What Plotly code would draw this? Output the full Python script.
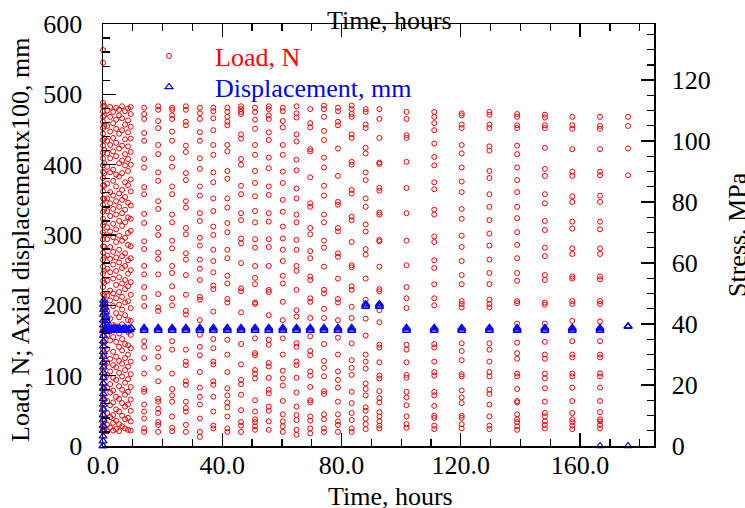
import plotly.graph_objects as go

# ---------------- data ----------------
# times (hours) of the sampled load "columns"
col_times = [13.8, 18.5, 23.2, 27.8, 32.5, 37.0, 41.7, 46.3, 51.0, 55.6, 60.3, 64.9, 69.5,
             74.1, 78.8, 83.4, 88.1, 92.7, 101.8, 111.1, 120.3, 129.6, 138.9, 148.2,
             157.4, 166.7, 176.1]

load_01 = [481, 472, 465, 445, 434, 408, 396, 368, 358, 330, 317, 291, 280, 256, 244, 226, 211, 199, 149, 141, 125, 103, 81, 77, 59, 49, 39, 25, 20]
load_02 = [483, 478, 462, 452, 428, 415, 389, 377, 348, 337, 310, 300, 275, 266, 244, 216, 197, 192, 139, 127, 111, 92, 67, 63, 53, 47, 34, 30, 20]
load_03 = [481, 478, 470, 465, 447, 434, 409, 397, 369, 358, 329, 318, 292, 281, 256, 246, 227, 210, 200, 149, 137, 103, 81, 72, 63, 42, 26, 21]
load_04 = [483, 478, 461, 456, 427, 418, 388, 378, 348, 339, 310, 301, 274, 265, 243, 215, 192, 187, 137, 120, 115, 92, 87, 63, 54, 49, 30, 20]
load_05 = [481, 473, 465, 446, 434, 409, 394, 369, 356, 331, 320, 296, 285, 265, 252, 236, 212, 208, 179, 158, 141, 129, 105, 83, 70, 59, 39, 20, 13]
load_06 = [481, 476, 466, 449, 428, 414, 389, 375, 352, 334, 312, 300, 279, 263, 247, 228, 223, 191, 152, 139, 120, 116, 92, 87, 70, 49, 29, 25]
load_07 = [481, 475, 468, 461, 456, 428, 419, 391, 380, 352, 339, 317, 304, 279, 267, 242, 231, 209, 204, 151, 130, 105, 82, 72, 62, 55, 42, 25, 20]
load_08 = [483, 479, 475, 472, 443, 437, 408, 400, 370, 358, 331, 321, 295, 288, 260, 224, 220, 190, 145, 116, 94, 88, 73, 51, 34, 29, 20]
load_09 = [481, 475, 464, 451, 428, 414, 391, 374, 355, 334, 318, 294, 282, 256, 239, 230, 204, 202, 153, 132, 129, 108, 103, 96, 65, 49, 38, 34, 28, 23]
load_10 = [483, 479, 470, 465, 446, 435, 410, 395, 369, 357, 331, 319, 294, 283, 256, 222, 219, 186, 151, 144, 118, 113, 97, 80, 75, 56, 50, 35, 23]
load_11 = [481, 476, 462, 453, 428, 414, 390, 374, 350, 333, 312, 295, 279, 263, 242, 231, 205, 179, 153, 130, 107, 96, 86, 64, 45, 35, 28, 20]
load_12 = [483, 473, 467, 443, 433, 407, 392, 366, 352, 329, 318, 293, 279, 256, 249, 222, 193, 184, 146, 141, 120, 115, 97, 76, 56, 44, 37, 23, 16]
load_13 = [479, 459, 453, 422, 419, 382, 345, 340, 310, 301, 277, 267, 241, 236, 210, 205, 182, 156, 135, 129, 106, 100, 84, 65, 62, 42, 36, 25, 18]
load_14 = [484, 479, 468, 448, 435, 410, 396, 370, 356, 329, 318, 292, 282, 255, 222, 217, 195, 182, 145, 121, 111, 99, 78, 74, 45, 38, 25, 20]
load_15 = [481, 476, 461, 456, 423, 384, 347, 343, 310, 305, 274, 269, 238, 209, 204, 179, 154, 130, 106, 94, 83, 63, 45, 35, 30, 20]
load_16 = [484, 479, 472, 468, 443, 438, 404, 400, 364, 359, 326, 321, 290, 257, 254, 227, 222, 198, 182, 146, 122, 111, 101, 77, 61, 47, 37, 25, 20]
load_17 = [479, 475, 457, 452, 424, 416, 389, 378, 352, 340, 315, 305, 280, 272, 238, 208, 181, 157, 130, 120, 110, 89, 81, 72, 55, 50, 39, 31, 24]
load_18 = [479, 465, 438, 403, 401, 367, 363, 332, 329, 293, 291, 255, 223, 220, 193, 176, 144, 140, 119, 100, 96, 78, 68, 62, 48, 42, 35, 29, 25]
load_19 = [475, 465, 442, 438, 404, 367, 331, 292, 257, 226, 210, 196, 144, 137, 119, 101, 97, 77, 69, 58, 42, 31, 26]
load_20 = [475, 468, 459, 449, 430, 411, 399, 375, 365, 336, 329, 298, 290, 264, 253, 230, 210, 200, 145, 140, 120, 105, 100, 77, 72, 57, 43, 40, 29, 24]
load_21 = [473, 470, 457, 452, 428, 416, 396, 376, 361, 337, 323, 299, 283, 263, 243, 230, 206, 202, 197, 146, 135, 122, 102, 99, 79, 69, 61, 43, 40, 31, 25]
load_22 = [475, 471, 457, 452, 426, 420, 391, 381, 358, 340, 321, 302, 285, 265, 246, 230, 208, 202, 197, 146, 137, 120, 105, 99, 80, 74, 59, 42, 29, 24]
load_23 = [472, 468, 456, 452, 427, 415, 396, 378, 361, 340, 324, 304, 286, 267, 246, 235, 206, 203, 174, 166, 147, 132, 124, 103, 99, 81, 64, 62, 45, 38, 34, 28, 23]
load_24 = [471, 467, 456, 452, 424, 394, 384, 358, 345, 320, 307, 282, 270, 243, 236, 204, 201, 174, 164, 148, 130, 124, 103, 96, 82, 63, 47, 42, 35, 30, 25]
load_25 = [468, 456, 451, 422, 390, 384, 355, 347, 319, 309, 281, 273, 241, 238, 206, 202, 178, 167, 149, 130, 126, 103, 99, 83, 64, 47, 38, 34, 29, 24]
load_26 = [468, 455, 451, 422, 390, 385, 356, 347, 319, 308, 281, 273, 241, 237, 206, 202, 177, 167, 149, 130, 126, 103, 99, 83, 64, 48, 38, 35, 30, 25]
load_27 = [468, 455, 423, 385]

# dense, continuously sampled part of the test (first ~9.5 h)
dense_times = [0.0, 0.4, 1.4, 2.4, 3.4, 4.4, 5.4, 6.4, 7.4, 8.4, 9.3]
dense_00 = [563, 545, 488, 483, 476, 468, 461, 452, 444, 435, 427, 417, 409, 399, 390, 381, 371, 362, 352, 343, 333, 323, 314, 304, 294, 284, 275, 265, 255, 245, 235, 226, 216, 206, 196, 186, 177, 167, 157, 147, 137, 128, 118, 108, 98, 89, 79, 70, 61, 53, 45, 38, 32, 27, 23, 20]
dense_01 = [484, 470, 455, 437, 421, 402, 388, 370, 351, 336, 318, 300, 283, 268, 249, 232, 214, 197, 181, 163, 147, 130, 114, 97, 82, 66, 51, 38, 27, 21]
dense_02 = [477, 455, 434, 416, 397, 373, 352, 334, 311, 294, 271, 252, 235, 214, 192, 176, 157, 138, 118, 101, 83, 64, 47, 30, 21]
dense_03 = [482, 468, 447, 428, 409, 389, 361, 345, 327, 305, 283, 266, 247, 221, 207, 181, 163, 150, 124, 106, 88, 76, 58, 41, 26]
dense_04 = [475, 459, 438, 419, 393, 377, 356, 337, 316, 297, 276, 258, 238, 217, 199, 172, 155, 134, 115, 97, 79, 62, 44, 33, 22]
dense_05 = [481, 464, 451, 431, 412, 386, 369, 348, 329, 308, 290, 268, 249, 229, 210, 189, 170, 148, 127, 112, 94, 70, 52, 36, 24]
dense_06 = [478, 470, 444, 423, 402, 383, 359, 340, 320, 299, 279, 261, 240, 219, 201, 183, 160, 141, 121, 104, 85, 67, 49, 31, 21]
dense_07 = [483, 466, 449, 427, 406, 388, 364, 350, 331, 313, 292, 270, 253, 231, 212, 194, 173, 152, 136, 117, 99, 80, 61, 43, 28]
dense_08 = [476, 457, 436, 415, 399, 375, 354, 336, 318, 296, 274, 256, 236, 223, 204, 186, 166, 145, 125, 108, 90, 73, 56, 38, 25]
dense_09 = [480, 463, 446, 426, 408, 391, 371, 346, 325, 303, 286, 264, 245, 227, 206, 179, 162, 143, 130, 113, 95, 77, 59, 40, 23]
dense_10 = [482, 472, 454, 437, 418, 400, 379, 362, 342, 323, 306, 284, 267, 250, 233, 215, 196, 178, 158, 139, 120, 102, 84, 66, 50, 35, 22]

# axial displacement x100 (mm): early ramp and settling
disp_early_t = [0.0, 0.02, 0.03, 0.04, 0.05, 0.06, 0.07, 0.08, 0.09, 0.1, 0.1, 0.11, 0.12, 0.12,
                0.13, 0.13, 0.14, 0.14, 0.15, 0.15, 0.16, 0.16, 0.17, 0.17, 0.18, 0.18, 0.19,
                0.2, 0.22, 0.4, 0.6, 0.8, 1.0, 1.2, 1.4,
                0.3, 0.7, 1.1, 1.5, 1.9, 2.3, 2.7, 3.1, 3.5, 3.9, 4.3, 4.7, 5.1, 5.5, 5.9,
                6.3, 6.7, 7.1, 7.5, 7.9, 8.3, 8.7, 9.1, 9.5]
disp_early_v = [0, 7, 14, 22, 29, 37, 44, 52, 59, 67, 74, 82, 89, 97,
                104, 112, 119, 127, 134, 142, 149, 157, 164, 172, 179, 187, 194,
                201, 207, 203, 197, 190, 184, 178, 172,
                164, 167, 165, 168, 166, 164, 167, 165, 168, 166, 164, 167, 165, 168, 166,
                164, 167, 165, 168, 166, 164, 167, 165, 168]
# displacement readings at each load column (three overlapping readings per column)
disp_col_lo  = [164, 164, 164, 164, 164, 164, 164, 164, 164, 164, 164, 164, 164, 164, 164, 164, 198, 198, 164, 164, 164, 164, 164, 164, 164, 164, 170]
disp_col_mid = [166, 166, 166, 166, 166, 166, 166, 166, 166, 166, 166, 166, 166, 166, 166, 166, 200, 200, 166, 166, 166, 166, 166, 166, 166, 166, 170]
disp_col_hi  = [168, 168, 168, 168, 168, 168, 168, 168, 168, 168, 168, 168, 168, 168, 168, 168, 202, 202, 168, 168, 168, 168, 168, 168, 168, 168, 170]
disp_zero_t = [0.0, 166.7, 176.1]
disp_zero_v = [0, 0, 0]

# axis settings
x_range = [0, 184.8]
load_range = [0, 600]
stress_range = [0, 138.4]

# ---------------- build series ----------------
load_cols = [load_01, load_02, load_03, load_04, load_05, load_06, load_07, load_08, load_09,
             load_10, load_11, load_12, load_13, load_14, load_15, load_16, load_17, load_18,
             load_19, load_20, load_21, load_22, load_23, load_24, load_25, load_26, load_27]
dense_cols = [dense_00, dense_01, dense_02, dense_03, dense_04, dense_05, dense_06, dense_07,
              dense_08, dense_09, dense_10]

load_x, load_y = [], []
for t, vals in zip(dense_times, dense_cols):
    load_x += [t] * len(vals)
    load_y += vals
for t, vals in zip(col_times, load_cols):
    load_x += [t] * len(vals)
    load_y += vals

disp_x = list(disp_early_t) + list(disp_zero_t)
disp_y = list(disp_early_v) + list(disp_zero_v)
for t, a, b, c in zip(col_times, disp_col_lo, disp_col_mid, disp_col_hi):
    disp_x += [t, t, t]
    disp_y += [a, b, c]

FONT = "Liberation Serif, Times New Roman, serif"
W, H = 745, 508
L, R, T, B = 103, 91, 24, 62
# plot area in window pixels: x 103..654, y 24..446


def px_x(p):
    return (p - 103) / 551.0


def px_y(p):
    return (446 - p) / 422.0


fig = go.Figure()
fig.add_trace(go.Scatter(
    x=load_x, y=load_y, mode="markers",
    name='<span style="color:#ff0000">Load, N</span>',
    marker=dict(symbol="circle-open", size=5, color="#ff0000", line=dict(width=1)),
    cliponaxis=False, legend="legend", hoverinfo="skip"))
fig.add_trace(go.Scatter(
    x=disp_x, y=disp_y, mode="markers",
    name='<span style="color:#0000ff">Displacement, mm</span>',
    marker=dict(symbol="triangle-up-open", size=7, color="#0000ff", line=dict(width=1.2)),
    cliponaxis=False, legend="legend2", hoverinfo="skip"))
# empty traces so that the mirrored top and right axes are drawn
fig.add_trace(go.Scatter(x=[], y=[], xaxis="x2", yaxis="y", showlegend=False))
fig.add_trace(go.Scatter(x=[], y=[], xaxis="x", yaxis="y2", showlegend=False))

tickcommon = dict(ticks="inside", ticklen=13, tickwidth=1.3, tickcolor="black",
                  showline=True, linecolor="black", linewidth=1.5,
                  showgrid=False, zeroline=False, automargin=False)
minor_common = dict(ticks="inside", ticklen=7, tickcolor="black", tickwidth=1.3, showgrid=False)

fig.update_layout(
    width=W, height=H,
    margin=dict(l=L, r=R, t=T, b=B, autoexpand=False),
    paper_bgcolor="white", plot_bgcolor="white",
    font=dict(family=FONT, size=26, color="black"),
    showlegend=True,
    xaxis=dict(range=x_range, dtick=40, tick0=0, tickformat=".1f",
               minor=dict(dtick=10, **minor_common),
               ticklabelstandoff=-5, **tickcommon),
    xaxis2=dict(range=x_range, dtick=40, tick0=0, overlaying="x", side="top", anchor="y",
                showticklabels=False, minor=dict(dtick=10, **minor_common), **tickcommon),
    yaxis=dict(range=load_range, dtick=100, tick0=0,
               minor=dict(dtick=20, **minor_common),
               ticklabelstandoff=14, **tickcommon),
    yaxis2=dict(range=stress_range, dtick=20, tick0=0, overlaying="y", side="right", anchor="x",
                minor=dict(dtick=5, **minor_common),
                ticklabelstandoff=11, **tickcommon),
    legend=dict(x=px_x(123), y=px_y(56), xanchor="left", yanchor="middle",
                bgcolor="rgba(0,0,0,0)", itemwidth=82, font=dict(size=26, family=FONT)),
    legend2=dict(x=px_x(123), y=px_y(87), xanchor="left", yanchor="middle",
                 bgcolor="rgba(0,0,0,0)", itemwidth=82, font=dict(size=26, family=FONT)),
    annotations=[
        dict(text="Time, hours", xref="paper", yref="paper", x=px_x(389), y=1,
             xanchor="center", yanchor="middle", yshift=3.5, showarrow=False,
             font=dict(size=26, family=FONT)),
        dict(text="Time, hours", xref="paper", yref="paper", x=px_x(390), y=px_y(496),
             xanchor="center", yanchor="middle", showarrow=False,
             font=dict(size=26, family=FONT)),
        dict(text="Load, N; Axial displacementx100, mm", xref="paper", yref="paper",
             x=px_x(21), y=px_y(240), xanchor="center", yanchor="middle", textangle=-90,
             showarrow=False, font=dict(size=26, family=FONT)),
        dict(text="Stress, MPa", xref="paper", yref="paper",
             x=px_x(737), y=px_y(235), xanchor="center", yanchor="middle", textangle=-90,
             showarrow=False, font=dict(size=26, family=FONT)),
    ],
)

# the page body normally has an 8 px margin; remove it so the figure fills the window
fig.write_html("out.html",
               config={"displayModeBar": False, "staticPlot": True},
               post_script="document.body.style.margin='0px';document.body.style.overflow='hidden';")
